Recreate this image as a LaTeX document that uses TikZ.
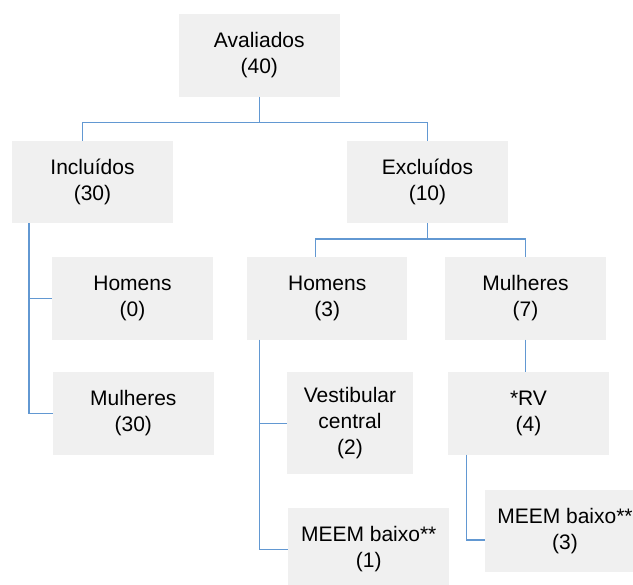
\documentclass[tikz,border=0pt]{standalone}
\usepackage{fontspec}
\setmainfont{Liberation Sans}
\usepackage{xcolor}
\definecolor{boxgray}{RGB}{240,240,240}
\definecolor{linkblue}{RGB}{98,152,210}

\begin{document}
\begin{tikzpicture}[x=1pt,y=-1pt]
         \tikzset{every node/.style={font=\fontsize{21}{26}\selectfont,align=center}}
         \tikzset{box/.style={fill=boxgray,minimum width=160.5pt,minimum height=82.5pt,inner sep=0pt}}
         \tikzset{link/.style={draw=linkblue,line width=1.3pt}}
         \clip (0,0) rectangle (633,585);
         % level 0 and 1
         \node[box] (aval) at (259.3,55.3) {Avaliados\\(40)};
         \node[box] (incl) at (92.5,182) {Incluídos\\(30)};
         \node[box] (excl) at (427.5,182) {Excluídos\\(10)};
         % level 2
         \node[box] (hom0) at (132.5,298.3) {Homens\\(0)};
         \node[box] (mul30) at (133.3,413.5) {Mulheres\\(30)};
         \node[box] (hom3) at (327.2,298.3) {Homens\\(3)};
         \node[box] (mul7) at (525.5,298.3) {Mulheres\\(7)};
         % level 3
         \node[box,minimum width=125.5pt,minimum height=102pt] (vest) at (350,423.3) {Vestibular\\central\\(2)};
         \node[box] (meem1) at (368.7,549.3) {MEEM baixo**\\(1)};
         \node[box] (rv) at (528.5,413.3) {*RV\\(4)};
         \node[box] (meem3) at (565,531.2) {MEEM baixo**\\(3)};
         % connectors
         \draw[link] (aval.south) -- ++(0,25.8) coordinate (j1);
         \draw[link] ([xshift=-9.8pt]incl.north) |- (j1) -| (excl.north);
         \coordinate (tincl) at ([xshift=17pt]incl.south west);
         \draw[link] (tincl) |- (mul30.west);
         \draw[link] (tincl |- hom0.west) -- (hom0.west);
         \draw[link] (excl.south) -- ++(0,15.7) coordinate (j2);
         \draw[link] ([xshift=-11.7pt]hom3.north) |- (j2) -| (mul7.north);
         \coordinate (thom3) at ([xshift=12.6pt]hom3.south west);
         \draw[link] (thom3) |- (meem1.west);
         \draw[link] (thom3 |- vest.west) -- (vest.west);
         \draw[link] (mul7.south) -- (mul7.south |- rv.north);
         \coordinate (trv) at ([xshift=18.7pt]rv.south west);
         \draw[link] (trv) |- ([yshift=-8.8pt]meem3.west);
      \end{tikzpicture}
\end{document}
